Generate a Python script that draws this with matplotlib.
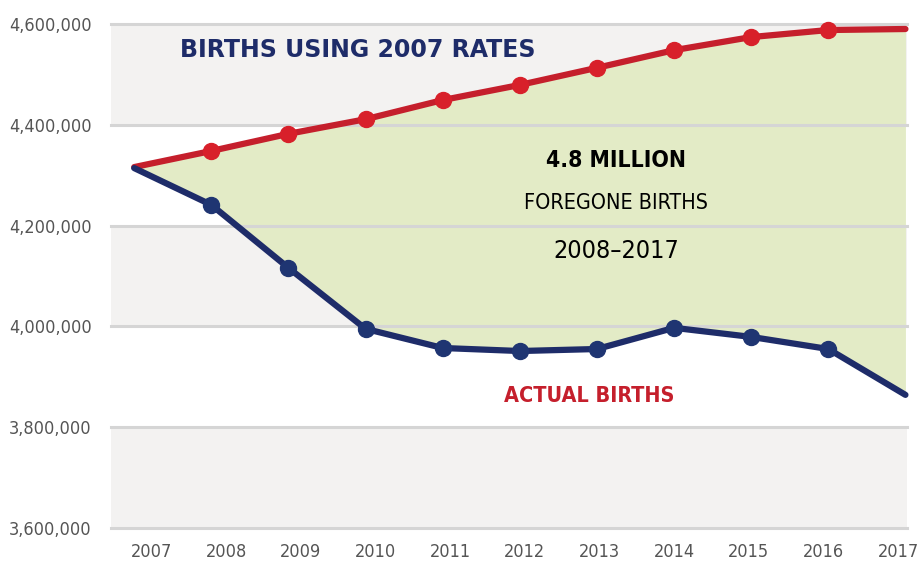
import numpy as np
import matplotlib
matplotlib.use("Agg")
import matplotlib.pyplot as plt
from matplotlib.ticker import FuncFormatter

years = [2007, 2008, 2009, 2010, 2011, 2012, 2013, 2014, 2015, 2016, 2017]
rates_2007 = [4316000, 4348000, 4382000, 4411000, 4449000, 4479000,
              4513000, 4548000, 4574000, 4588000, 4590000]
actual = [4314000, 4241000, 4116000, 3995000, 3957000, 3951000,
          3955000, 3997000, 3979000, 3955000, 3864000]
yticks = [3600000, 3800000, 4000000, 4200000, 4400000, 4600000]

plt.rcParams['font.family'] = ['DejaVu Sans']
plt.rcParams['font.stretch'] = 'condensed'

navy = '#1e2c69'
red = '#c51f2c'

fig = plt.figure(figsize=(9.18, 5.64), dpi=100)
ax = fig.add_axes([0.121, 0.064, 0.867, 0.8935])
ax.set_facecolor('white')

# alternating grey bands
for lo, hi in zip(yticks[::2], yticks[1::2]):
    ax.axhspan(lo, hi, color='#f3f2f1', lw=0, zorder=0)

x = np.array(years)
ax.fill_between(x, actual, rates_2007, color='#e3ebc6', zorder=1, lw=0)

for v in yticks:
    ax.axhline(v, color='#d5d5d5', lw=2.2, zorder=1.5, clip_on=False)

ax.plot(x, rates_2007, color=red, lw=4.5, solid_capstyle='round', zorder=3, clip_on=False)
ax.plot(x[1:-1], rates_2007[1:-1], 'o', color='#d8202a', ms=11.5, zorder=4, clip_on=False)
ax.plot(x, actual, color=navy, lw=4.5, solid_capstyle='round', zorder=3, clip_on=False)
ax.plot(x[1:-1], actual[1:-1], 'o', color='#1f3572', ms=11.5, zorder=4, clip_on=False)

ax.set_xlim(2006.7, 2017.02)
ax.set_ylim(3600000, 4600000)
ax.set_xticks([])
ax.set_yticks(yticks)
ax.yaxis.set_major_formatter(FuncFormatter(lambda v, p: f"{int(v):,}"))
ax.tick_params(length=0, labelsize=13, labelcolor='#555555')
ax.tick_params(axis='y', pad=14)
for s in ax.spines.values():
    s.set_visible(False)

# year labels sit on a slightly tighter spacing than the lines
ax2 = ax.twiny()
ax2.set_xlim(2006.46, 2017.12)
ax2.xaxis.set_ticks_position('bottom')
ax2.set_xticks(years)
ax2.tick_params(length=0, labelsize=13, labelcolor='#555555', pad=11)
for s in ax2.spines.values():
    s.set_visible(False)

ax.text(2009.9, 4548000, 'BIRTHS USING 2007 RATES', color=navy, fontsize=17,
        fontweight='bold', fontstretch='normal', ha='center', va='center', zorder=5)
ax.text(2012.9, 3862000, 'ACTUAL BIRTHS', color=red, fontsize=15.5,
        fontweight='bold', ha='center', va='center', zorder=5)
ax.text(2013.25, 4330000, '4.8 MILLION', color='black', fontsize=16.5,
        fontweight='bold', ha='center', va='center', zorder=5)
ax.text(2013.25, 4245000, 'FOREGONE BIRTHS', color='black', fontsize=15.5,
        ha='center', va='center', zorder=5)
ax.text(2013.25, 4150000, '2008\u20132017', color='black', fontsize=18,
        ha='center', va='center', zorder=5)

fig.savefig('out.png', dpi=100)
